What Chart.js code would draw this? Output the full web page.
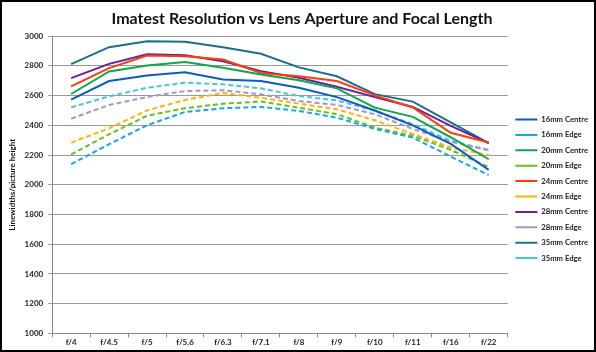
<!DOCTYPE html>
<html>
<head>
<meta charset="utf-8">
<script src="https://cdn.jsdelivr.net/npm/chart.js@4"></script>
<style>
  html, body { margin: 0; padding: 0; background: #fff; }
  #wrap { width: 596px; height: 352px; box-sizing: border-box; border: 2px solid #000; }
</style>
</head>
<body>
<div id="wrap"><canvas id="lensChart" width="592" height="348"></canvas></div>
<script>
// aperture stops (x categories)
const apertures = ["f/4", "f/4.5", "f/5", "f/5.6", "f/6.3", "f/7.1", "f/8", "f/9", "f/10", "f/11", "f/16", "f/22"];

// MTF50 values, line widths / picture height
const mm16Centre = [2573, 2698, 2736, 2758, 2709, 2698, 2653, 2590, 2500, 2400, 2275, 2100];
const mm16Edge   = [2139, 2273, 2401, 2490, 2515, 2524, 2497, 2452, 2376, 2318, 2190, 2065];
const mm20Centre = [2611, 2763, 2803, 2826, 2788, 2743, 2703, 2649, 2519, 2457, 2320, 2172];
const mm20Edge   = [2204, 2340, 2465, 2515, 2546, 2560, 2519, 2475, 2385, 2330, 2235, 2120];
const mm24Centre = [2662, 2785, 2870, 2865, 2843, 2752, 2731, 2698, 2602, 2520, 2350, 2285];
const mm24Edge   = [2284, 2380, 2501, 2571, 2618, 2586, 2546, 2508, 2434, 2342, 2251, 2200];
const mm28Centre = [2718, 2814, 2879, 2872, 2832, 2765, 2720, 2660, 2590, 2524, 2396, 2280];
const mm28Edge   = [2445, 2537, 2591, 2631, 2636, 2609, 2564, 2537, 2475, 2376, 2290, 2232];
const mm35Centre = [2812, 2926, 2966, 2962, 2926, 2882, 2790, 2730, 2610, 2560, 2420, 2280];
const mm35Edge   = [2521, 2595, 2653, 2687, 2676, 2649, 2597, 2568, 2497, 2409, 2295, 2235];

// y axis
const yMin = 1000, yMax = 3000, yStep = 200;

function serie(label, data, colour, dashed) {
  return {
    label: label,
    data: data,
    borderColor: colour,
    backgroundColor: colour,
    borderWidth: 2,
    borderDash: dashed ? [5, 3] : [],
    pointRadius: 0,
    tension: 0,
    fill: false
  };
}

const ctx = document.getElementById("lensChart").getContext("2d");
const myChart = new Chart(ctx, {
  type: "line",
  data: {
    labels: apertures,
    datasets: [
      serie("16mm Centre", mm16Centre, "#0B5CC0", false),
      serie("16mm Edge",   mm16Edge,   "#10A8EE", true),
      serie("20mm Centre", mm20Centre, "#0DA848", false),
      serie("20mm Edge",   mm20Edge,   "#66C11A", true),
      serie("24mm Centre", mm24Centre, "#FF3B0A", false),
      serie("24mm Edge",   mm24Edge,   "#FFB300", true),
      serie("28mm Centre", mm28Centre, "#6A1FA0", false),
      serie("28mm Edge",   mm28Edge,   "#A592D0", true),
      serie("35mm Centre", mm35Centre, "#19708E", false),
      serie("35mm Edge",   mm35Edge,   "#43C5E4", true)
    ]
  },
  options: {
    responsive: false,
    animation: false,
    layout: { padding: { left: 4, right: -4, top: 0, bottom: 3 } },
    plugins: {
      title: {
        display: true,
        text: "Imatest Resolution vs Lens Aperture and Focal Length",
        color: "#111",
        font: { family: "Lato", size: 16, weight: "bold" },
        padding: { top: 7, bottom: 8 }
      },
      legend: {
        position: "right",
        title: { display: true, text: " ", font: { size: 8 }, padding: { top: 19, bottom: 0 } },
        labels: {
          usePointStyle: true,
          pointStyle: "line",
          pointStyleWidth: 22,
          boxHeight: 8,
          padding: 7.7,
          color: "#222",
          font: { family: "Lato", size: 7.7, weight: "bold" }
        }
      },
      tooltip: { enabled: false }
    },
    scales: {
      x: {
        offset: true,
        grid: { offset: true, drawOnChartArea: false, drawTicks: true, tickLength: 4, color: "#888" },
        border: { color: "#888" },
        ticks: { color: "#222", font: { family: "Lato", size: 8, weight: "bold" }, padding: 0, maxRotation: 0 }
      },
      y: {
        min: yMin,
        max: yMax,
        ticks: {
          stepSize: yStep,
          color: "#222",
          font: { family: "Lato", size: 8, weight: "bold" },
          padding: 5,
          callback: function (v) { return String(v); }
        },
        grid: { color: "#9a9a9a", drawTicks: true, tickLength: 4 },
        border: { color: "#888" },
        title: {
          display: true,
          text: "Linewidths/picture height",
          color: "#111",
          font: { family: "Lato", size: 8, weight: "bold" },
          padding: 2
        }
      }
    }
  }
});
</script>
</body>
</html>
